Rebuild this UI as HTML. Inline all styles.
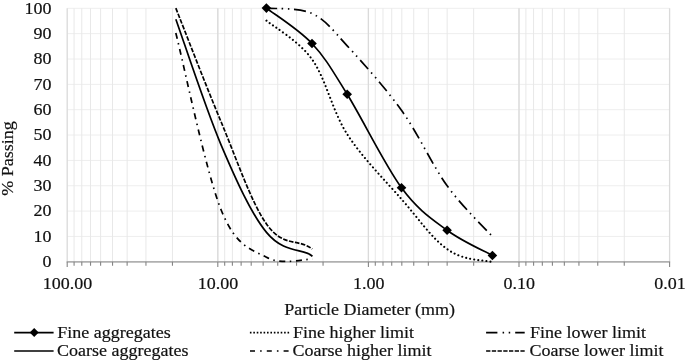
<!DOCTYPE html>
<html><head><meta charset="utf-8"><title>Particle size distribution</title>
<style>html,body{margin:0;padding:0;background:#fff;}body{width:685px;height:362px;overflow:hidden;}svg{display:block;will-change:transform;font-family:"Liberation Serif",serif;}</style></head><body>
<svg width="685" height="362" viewBox="0 0 685 362">
<rect width="685" height="362" fill="#fff"/>
<path d="M67.20 236.45H669.60M67.20 211.10H669.60M67.20 185.75H669.60M67.20 160.40H669.60M67.20 135.05H669.60M67.20 109.70H669.60M67.20 84.35H669.60M67.20 59.00H669.60M67.20 33.65H669.60M67.20 8.30H669.60" fill="none" stroke="#eeeeee" stroke-width="1"/>
<path d="M74.09 8.30V261.80M81.79 8.30V261.80M90.53 8.30V261.80M100.61 8.30V261.80M112.54 8.30V261.80M127.13 8.30V261.80M145.95 8.30V261.80M172.46 8.30V261.80M217.80 8.30V261.80M224.69 8.30V261.80M232.39 8.30V261.80M241.13 8.30V261.80M251.21 8.30V261.80M263.14 8.30V261.80M277.73 8.30V261.80M296.55 8.30V261.80M323.06 8.30V261.80M368.40 8.30V261.80M375.29 8.30V261.80M382.99 8.30V261.80M391.73 8.30V261.80M401.81 8.30V261.80M413.74 8.30V261.80M428.33 8.30V261.80M447.15 8.30V261.80M473.66 8.30V261.80M519.00 8.30V261.80M525.89 8.30V261.80M533.59 8.30V261.80M542.33 8.30V261.80M552.41 8.30V261.80M564.34 8.30V261.80M578.93 8.30V261.80M597.75 8.30V261.80M624.26 8.30V261.80" fill="none" stroke="#e8e8e8" stroke-width="1"/>
<path d="M67.20 8.30V261.80M217.80 8.30V261.80M368.40 8.30V261.80M519.00 8.30V261.80M669.60 8.30V261.80" fill="none" stroke="#dadada" stroke-width="1.3"/>
<path d="M66.70 261.90H670.10" stroke="#b0b0b0" stroke-width="1.6" fill="none"/>
<path d="M67.20 261.80v5.10M74.09 261.80v3.90M81.79 261.80v3.90M90.53 261.80v3.90M100.61 261.80v3.90M112.54 261.80v3.90M127.13 261.80v3.90M145.95 261.80v3.90M172.46 261.80v3.90M217.80 261.80v3.90M217.80 261.80v5.10M224.69 261.80v3.90M232.39 261.80v3.90M241.13 261.80v3.90M251.21 261.80v3.90M263.14 261.80v3.90M277.73 261.80v3.90M296.55 261.80v3.90M323.06 261.80v3.90M368.40 261.80v3.90M368.40 261.80v5.10M375.29 261.80v3.90M382.99 261.80v3.90M391.73 261.80v3.90M401.81 261.80v3.90M413.74 261.80v3.90M428.33 261.80v3.90M447.15 261.80v3.90M473.66 261.80v3.90M519.00 261.80v3.90M519.00 261.80v5.10M525.89 261.80v3.90M533.59 261.80v3.90M542.33 261.80v3.90M552.41 261.80v3.90M564.34 261.80v3.90M578.93 261.80v3.90M597.75 261.80v3.90M624.26 261.80v3.90M669.60 261.80v5.10" stroke="#858585" stroke-width="1.1" fill="none"/>
<text transform="translate(51.40 267.10) scale(1.0286 1)" font-size="17.5" text-anchor="end" fill="#111" stroke="#111" stroke-width="0.2">0</text>
<text transform="translate(51.40 241.75) scale(1.0286 1)" font-size="17.5" text-anchor="end" fill="#111" stroke="#111" stroke-width="0.2">10</text>
<text transform="translate(51.40 216.40) scale(1.0286 1)" font-size="17.5" text-anchor="end" fill="#111" stroke="#111" stroke-width="0.2">20</text>
<text transform="translate(51.40 191.05) scale(1.0286 1)" font-size="17.5" text-anchor="end" fill="#111" stroke="#111" stroke-width="0.2">30</text>
<text transform="translate(51.40 165.70) scale(1.0286 1)" font-size="17.5" text-anchor="end" fill="#111" stroke="#111" stroke-width="0.2">40</text>
<text transform="translate(51.40 140.35) scale(1.0286 1)" font-size="17.5" text-anchor="end" fill="#111" stroke="#111" stroke-width="0.2">50</text>
<text transform="translate(51.40 115.00) scale(1.0286 1)" font-size="17.5" text-anchor="end" fill="#111" stroke="#111" stroke-width="0.2">60</text>
<text transform="translate(51.40 89.65) scale(1.0286 1)" font-size="17.5" text-anchor="end" fill="#111" stroke="#111" stroke-width="0.2">70</text>
<text transform="translate(51.40 64.30) scale(1.0286 1)" font-size="17.5" text-anchor="end" fill="#111" stroke="#111" stroke-width="0.2">80</text>
<text transform="translate(51.40 38.95) scale(1.0286 1)" font-size="17.5" text-anchor="end" fill="#111" stroke="#111" stroke-width="0.2">90</text>
<text transform="translate(51.40 13.60) scale(1.0286 1)" font-size="17.5" text-anchor="end" fill="#111" stroke="#111" stroke-width="0.2">100</text>
<text transform="translate(67.50 289.10) scale(1.0286 1)" font-size="17.5" text-anchor="middle" fill="#111" stroke="#111" stroke-width="0.2">100.00</text>
<text transform="translate(218.10 289.10) scale(1.0286 1)" font-size="17.5" text-anchor="middle" fill="#111" stroke="#111" stroke-width="0.2">10.00</text>
<text transform="translate(368.70 289.10) scale(1.0286 1)" font-size="17.5" text-anchor="middle" fill="#111" stroke="#111" stroke-width="0.2">1.00</text>
<text transform="translate(519.30 289.10) scale(1.0286 1)" font-size="17.5" text-anchor="middle" fill="#111" stroke="#111" stroke-width="0.2">0.10</text>
<text transform="translate(669.90 289.10) scale(1.0286 1)" font-size="17.5" text-anchor="middle" fill="#111" stroke="#111" stroke-width="0.2">0.01</text>
<text transform="translate(369.60 314.90) scale(1.0286 1)" font-size="17.5" text-anchor="middle" fill="#111" stroke="#111" stroke-width="0.2">Particle Diameter (mm)</text>
<text transform="translate(13.20 158.40) rotate(-90) scale(1.0286 1)" font-size="17.5" text-anchor="middle" fill="#111" stroke="#111" stroke-width="0.2">% Passing</text>
<path d="M175.82 33.00 C183.38 62.50 206.04 172.62 221.15 210.00 C236.27 247.38 251.31 249.10 266.49 257.30 C281.67 265.50 304.61 258.88 312.24 259.20" fill="none" stroke="#000" stroke-width="1.70" stroke-dasharray="6.00,4.50,1.50,4.50"/>
<path d="M175.82 8.10 C183.38 27.08 206.04 86.02 221.15 122.00 C236.27 157.98 251.31 202.83 266.49 224.00 C283.62 248.10 297.47 237.82 312.24 249.00" fill="none" stroke="#000" stroke-width="1.70" stroke-dasharray="4.59,1.53"/>
<path d="M175.82 19.20 C183.38 40.18 206.04 109.57 221.15 145.10 C236.27 180.63 251.28 213.87 266.49 232.40 C284.56 254.43 304.39 248.02 312.40 256.30" fill="none" stroke="#000" stroke-width="1.70" />
<path d="M266.49 20.60 C274.11 27.10 298.79 40.67 312.24 59.60 C325.69 78.53 332.27 110.88 347.20 134.20 C362.13 157.52 385.15 180.37 401.81 199.50 C418.47 218.63 432.03 238.60 447.15 249.00 C462.72 260.25 477.42 259.45 492.48 261.90" fill="none" stroke="#000" stroke-width="2.1" stroke-dasharray="0.01,4.1" stroke-linecap="round"/>
<path d="M266.49 8.10 C274.11 9.02 298.79 7.32 312.24 13.60 C325.69 19.88 332.27 29.60 347.20 45.80 C362.13 62.00 385.15 87.47 401.81 110.80 C418.47 134.13 432.03 164.83 447.15 185.80 C462.26 206.77 484.92 228.13 492.48 236.60" fill="none" stroke="#000" stroke-width="1.70" stroke-dashoffset="1.2" stroke-dasharray="12.08,4.53,1.51,4.53,1.51,4.53"/>
<path d="M266.40 8.10 C274.00 14.00 298.53 29.13 312.00 43.50 C325.47 57.87 332.28 70.25 347.20 94.30 C362.12 118.35 384.85 165.13 401.50 187.80 C418.15 210.47 431.95 219.02 447.10 230.30 C462.25 241.58 484.85 251.30 492.40 255.50" fill="none" stroke="#000" stroke-width="1.70" />
<path d="M261.60 8.10L266.40 3.30L271.20 8.10L266.40 12.90Z" fill="#000"/>
<path d="M307.20 43.50L312.00 38.70L316.80 43.50L312.00 48.30Z" fill="#000"/>
<path d="M342.40 94.30L347.20 89.50L352.00 94.30L347.20 99.10Z" fill="#000"/>
<path d="M396.70 187.80L401.50 183.00L406.30 187.80L401.50 192.60Z" fill="#000"/>
<path d="M442.30 230.30L447.10 225.50L451.90 230.30L447.10 235.10Z" fill="#000"/>
<path d="M487.60 255.50L492.40 250.70L497.20 255.50L492.40 260.30Z" fill="#000"/>
<path d="M14.20 332.60H53.60" fill="none" stroke="#000" stroke-width="1.55" />
<path d="M29.70 332.60L34.20 328.10L38.70 332.60L34.20 337.10Z" fill="#000"/>
<path d="M14.20 351.00H53.60" fill="none" stroke="#000" stroke-width="1.55" />
<path d="M249.90 332.70H289.30" fill="none" stroke="#000" stroke-width="1.7" stroke-dasharray="1.6,1.82"/>
<path d="M250.00 351.00H288.80" fill="none" stroke="#000" stroke-width="1.55" stroke-dasharray="5.0,5.1,1.6,5.1"/>
<path d="M486.10 332.60H524.70" fill="none" stroke="#000" stroke-width="1.55" stroke-dasharray="11.3,5.2,1.5,4.6,1.5,5.0,12"/>
<path d="M486.10 351.00H524.70" fill="none" stroke="#000" stroke-width="1.55" stroke-dasharray="4.3,1.42"/>
<text transform="translate(57.20 338.10) scale(1.0286 1)" font-size="17.5" text-anchor="start" fill="#111" stroke="#111" stroke-width="0.2">Fine aggregates</text>
<text transform="translate(57.00 356.40) scale(1.0286 1)" font-size="17.5" text-anchor="start" fill="#111" stroke="#111" stroke-width="0.2">Coarse aggregates</text>
<text transform="translate(293.00 338.10) scale(1.0286 1)" font-size="17.5" text-anchor="start" fill="#111" stroke="#111" stroke-width="0.2">Fine higher limit</text>
<text transform="translate(292.60 356.40) scale(1.0286 1)" font-size="17.5" text-anchor="start" fill="#111" stroke="#111" stroke-width="0.2">Coarse higher limit</text>
<text transform="translate(530.00 338.10) scale(1.0286 1)" font-size="17.5" text-anchor="start" fill="#111" stroke="#111" stroke-width="0.2">Fine lower limit</text>
<text transform="translate(529.60 356.40) scale(1.0286 1)" font-size="17.5" text-anchor="start" fill="#111" stroke="#111" stroke-width="0.2">Coarse lower limit</text>
</svg></body></html>
